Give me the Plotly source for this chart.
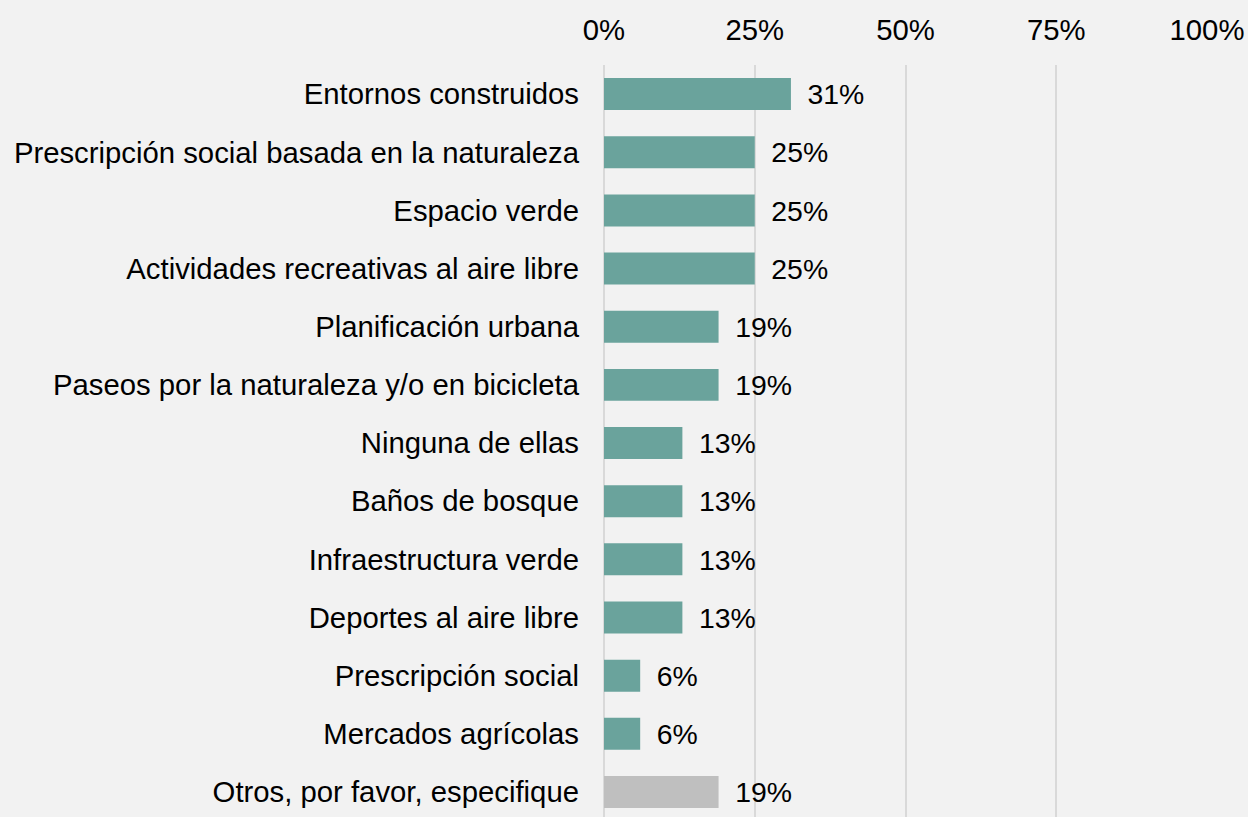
import plotly.graph_objects as go

categories = [
    "Entornos construidos",
    "Prescripción social basada en la naturaleza",
    "Espacio verde",
    "Actividades recreativas al aire libre",
    "Planificación urbana",
    "Paseos por la naturaleza y/o en bicicleta",
    "Ninguna de ellas",
    "Baños de bosque",
    "Infraestructura verde",
    "Deportes al aire libre",
    "Prescripción social",
    "Mercados agrícolas",
    "Otros, por favor, especifique",
]
values = [31, 25, 25, 25, 19, 19, 13, 13, 13, 13, 6, 6, 19]
tick_vals = [0, 25, 50, 75, 100]
tick_text = ["0%", "25%", "50%", "75%", "100%"]

TEAL = "#6aa39c"
GREY = "#bfbfbf"
colors = [GREY if c.startswith("Otros") else TEAL for c in categories]

fig = go.Figure()
fig.add_trace(go.Bar(
    x=values,
    y=categories,
    orientation="h",
    marker=dict(color=colors, line=dict(width=0)),
    text=[f"{v}%" for v in values],
    texttemplate=" \u2009%{text}",
    textposition="outside",
    textfont=dict(size=29.3, color="#000000"),
    cliponaxis=False,
    hoverinfo="skip",
))

fig.update_layout(
    width=1248,
    height=817,
    paper_bgcolor="#f2f2f2",
    plot_bgcolor="#f2f2f2",
    font=dict(family="Liberation Sans, Arial, sans-serif", size=29.3, color="#000000"),
    margin=dict(l=604, r=41, t=65, b=0),
    bargap=0.45,
    showlegend=False,
    xaxis=dict(
        side="top",
        range=[0, 100],
        tickvals=tick_vals,
        ticktext=tick_text,
        showgrid=True,
        gridcolor="#d9d9d9",
        gridwidth=1.5,
        zeroline=True,
        zerolinecolor="#d9d9d9",
        zerolinewidth=1.5,
        showline=False,
        ticklabelstandoff=18,
    ),
    yaxis=dict(
        # last row sits slightly below the page edge in the original
        range=[len(categories) - 0.57, -0.5],
        showgrid=False,
        showline=False,
        ticks="",
        ticklabelstandoff=24,
    ),
)

# drop the default page margin so the grey background fills the window
fig.write_html(
    "out.html",
    config={"displayModeBar": False},
    post_script="document.body.style.margin='0';",
)
